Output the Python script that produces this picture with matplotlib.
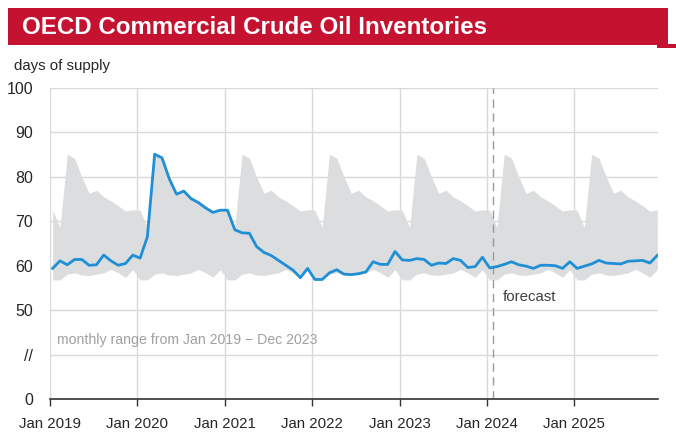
"""OECD commercial crude oil inventories, days of supply (monthly, 2019-2025)."""

import matplotlib
matplotlib.use('Agg')
import matplotlib.pyplot as plt
from matplotlib.patches import Rectangle
import numpy as np

# Colors
RED = '#c41230'
BLUE = '#1f8fd6'
BAND = '#dcddde'
GRID = '#d9d9d9'
TEXT = '#262626'
SANS = ['Liberation Sans', 'DejaVu Sans']

# ── Data ──
start_year = 2019
n_years = 7

# monthly range Jan 2019 - Dec 2023, by calendar month (Jan..Dec)
range_max = [72.5, 68.6, 85.1, 84.2, 80.0, 76.3, 77.0, 75.5, 74.6, 73.5, 72.3, 72.6]
range_min = [56.8, 56.8, 58.1, 58.4, 57.9, 57.8, 58.1, 58.4, 59.2, 58.4, 57.4, 59.1]

inventories = [
    # 2019
    59.4, 61.1, 60.2, 61.4, 61.4, 60.1, 60.2, 62.4, 61.1, 60.1, 60.5, 62.4,
    # 2020
    61.7, 66.5, 85.1, 84.3, 79.6, 76.1, 76.8, 75.1, 74.2, 73.0, 72.0, 72.5,
    # 2021
    72.5, 68.1, 67.4, 67.3, 64.3, 63.0, 62.3, 61.2, 60.1, 59.0, 57.3, 59.4,
    # 2022
    56.9, 56.9, 58.4, 59.1, 58.1, 58.0, 58.2, 58.6, 60.9, 60.3, 60.3, 63.2,
    # 2023
    61.3, 61.2, 61.6, 61.4, 60.1, 60.6, 60.5, 61.6, 61.2, 59.6, 59.8, 61.9,
    # 2024 (forecast)
    59.5, 59.8, 60.3, 60.9, 60.2, 59.9, 59.4, 60.1, 60.1, 60.0, 59.4, 60.9,
    # 2025 (forecast)
    59.4, 59.9, 60.4, 61.2, 60.6, 60.5, 60.4, 61.0, 61.1, 61.2, 60.6, 62.3,
]

year_labels = ['Jan 2019', 'Jan 2020', 'Jan 2021', 'Jan 2022',
               'Jan 2023', 'Jan 2024', 'Jan 2025']
y_ticks = [30, 40, 50, 60, 70, 80, 90, 100]   # axis is broken below 50
y_labels = ['0', '//', '50', '60', '70', '80', '90', '100']
forecast_start = 2024.07


def main():
    fig = plt.figure(figsize=(6.76, 4.44), dpi=100)
    fig.patch.set_facecolor('white')

    # Title bar
    fig.patches.append(Rectangle((8 / 676, 1 - 45 / 444), 660 / 676, 37 / 444,
                                 transform=fig.transFigure, facecolor=RED,
                                 edgecolor='none', zorder=0))
    fig.patches.append(Rectangle((657 / 676, 1 - 48 / 444), 19 / 676, 4 / 444,
                                 transform=fig.transFigure, facecolor=RED,
                                 edgecolor='none', zorder=0))
    fig.text(22 / 676, 1 - 28 / 444, 'OECD Commercial Crude Oil Inventories',
             ha='left', va='center', fontsize=17.4, fontweight='bold',
             color='white', family=SANS)
    fig.text(14 / 676, 1 - 66 / 444, 'days of supply', ha='left', va='center',
             fontsize=10.8, color=TEXT, family=SANS)

    ax = fig.add_axes([50 / 676, 1 - 399 / 444, 608 / 676, 311 / 444])

    months = np.arange(len(inventories))
    x = start_year + (months + 0.37) / 12
    upper = np.tile(range_max, n_years)
    lower = np.tile(range_min, n_years)

    ax.fill_between(x, lower, upper, color=BAND, linewidth=0, zorder=1)
    ax.plot(x, inventories, color=BLUE, linewidth=2.0, zorder=3,
            solid_joinstyle='round')

    ax.axvline(forecast_start, color='#9a9a9a', linewidth=1.0,
               linestyle=(0, (6, 4)), zorder=2)

    ax.set_xlim(start_year, start_year + 608 / 87.4)
    ax.set_ylim(30, 100)

    xt = np.arange(start_year, start_year + n_years)
    ax.set_xticks(xt)
    ax.set_xticklabels(year_labels, family=SANS, fontsize=10.8, color=TEXT)
    ax.set_yticks(y_ticks)
    ax.set_yticklabels(y_labels, family=SANS, fontsize=11.5, color=TEXT)

    ax.grid(True, color=GRID, linewidth=1.0, zorder=0)
    ax.set_axisbelow(True)
    for side in ['top', 'right', 'left']:
        ax.spines[side].set_visible(False)
    ax.spines['bottom'].set_color('#333333')
    ax.spines['bottom'].set_linewidth(1.2)
    ax.spines['bottom'].set_zorder(4)

    ax.tick_params(axis='y', length=0, pad=12)
    ax.tick_params(axis='x', length=5, width=1.0, color='#333333', pad=8,
                   direction='out')

    ax.text(start_year + 7 / 87.4, 43.3, 'monthly range from Jan 2019 \u2212 Dec 2023',
            ha='left', va='center', fontsize=10.2, color='#a0a0a0', family=SANS)
    ax.text(forecast_start + 10 / 87.4, 53.0, 'forecast', ha='left', va='center',
            fontsize=10.8, color='#404040', family=SANS)

    fig.savefig('out.png', dpi=100, facecolor='white')


if __name__ == '__main__':
    main()
